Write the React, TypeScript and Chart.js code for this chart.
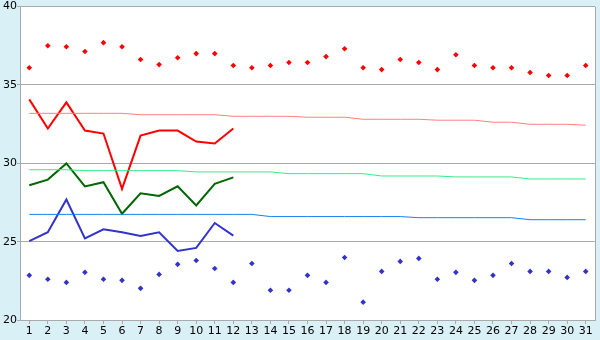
import React, { useEffect, useRef } from "react";
import { Chart, registerables } from "chart.js";

Chart.register(...registerables);

const days: string[] = Array.from({ length: 31 }, (_, i) => String(i + 1));

const dailyMax: number[] = [36.1, 37.5, 37.44, 37.13, 37.7, 37.44, 36.62, 36.3, 36.74, 37.0, 37.0, 36.24, 36.1, 36.24, 36.43, 36.43, 36.81, 37.31, 36.1, 35.98, 36.62, 36.43, 35.98, 36.93, 36.24, 36.1, 36.1, 35.79, 35.6, 35.6, 36.24];
const dailyMin: number[] = [22.85, 22.6, 22.4, 23.04, 22.6, 22.53, 22.02, 22.91, 23.55, 23.8, 23.29, 22.4, 23.61, 21.9, 21.9, 22.85, 22.4, 23.99, 21.14, 23.1, 23.74, 23.93, 22.6, 23.04, 22.53, 22.85, 23.61, 23.1, 23.1, 22.72, 23.1];

const avgMax: number[] = [34.08, 32.22, 33.89, 32.09, 31.9, 28.37, 31.77, 32.09, 32.09, 31.39, 31.26, 32.22];
const avgMean: number[] = [28.6, 28.96, 29.99, 28.52, 28.79, 26.78, 28.09, 27.92, 28.53, 27.31, 28.69, 29.1];
const avgMin: number[] = [25.03, 25.6, 27.69, 25.2, 25.79, 25.6, 25.36, 25.6, 24.41, 24.6, 26.19, 25.38];

const normalMax: number[] = [33.19, 33.19, 33.19, 33.19, 33.19, 33.19, 33.1, 33.1, 33.1, 33.1, 33.1, 33.0, 33.0, 33.0, 33.0, 32.94, 32.94, 32.94, 32.81, 32.81, 32.81, 32.81, 32.75, 32.75, 32.75, 32.62, 32.62, 32.49, 32.49, 32.49, 32.43];
const normalMean: number[] = [29.59, 29.59, 29.59, 29.53, 29.53, 29.53, 29.53, 29.53, 29.53, 29.45, 29.45, 29.45, 29.45, 29.45, 29.34, 29.34, 29.34, 29.34, 29.34, 29.19, 29.19, 29.19, 29.19, 29.13, 29.13, 29.13, 29.13, 29.0, 29.0, 29.0, 29.0];
const normalMin: number[] = [26.74, 26.74, 26.74, 26.74, 26.74, 26.74, 26.74, 26.74, 26.74, 26.74, 26.74, 26.74, 26.74, 26.6, 26.6, 26.6, 26.6, 26.6, 26.6, 26.6, 26.6, 26.53, 26.53, 26.53, 26.53, 26.53, 26.53, 26.4, 26.4, 26.4, 26.4];

const yTicks: number[] = [20, 25, 30, 35, 40];

const FONT = { family: "'DejaVu Sans', Verdana, sans-serif", size: 11 };

const bgPlugin = {
  id: "bgPlugin",
  beforeDraw(chart: any) {
    const { ctx, chartArea } = chart;
    ctx.save();
    ctx.fillStyle = "#daf0f7";
    ctx.fillRect(0, 0, chart.width, chart.height);
    ctx.fillStyle = "#ffffff";
    ctx.fillRect(chartArea.left, chartArea.top, chartArea.right - chartArea.left, chartArea.bottom - chartArea.top);
    ctx.restore();
  },
  afterDatasetsDraw(chart: any) {
    const { ctx, chartArea } = chart;
    ctx.save();
    ctx.strokeStyle = "#aaaaaa";
    ctx.lineWidth = 1;
    ctx.beginPath();
    ctx.moveTo(Math.round(chartArea.right) + 0.5, chartArea.top);
    ctx.lineTo(Math.round(chartArea.right) + 0.5, chartArea.bottom);
    ctx.stroke();
    ctx.restore();
  },
};

const lineDs = (label: string, data: number[], color: string, width: number) => ({
  label,
  data,
  borderColor: color,
  backgroundColor: color,
  borderWidth: width,
  pointRadius: 0,
  tension: 0,
  fill: false,
});

const dotDs = (label: string, data: number[], color: string) => ({
  label,
  data,
  borderColor: color,
  backgroundColor: color,
  showLine: false,
  pointStyle: "rectRot",
  pointRadius: 2.8,
  pointBorderWidth: 0,
});

export default function App() {
  const ref = useRef<HTMLCanvasElement | null>(null);
  useEffect(() => {
    if (!ref.current) return;
    const chart = new Chart(ref.current, {
      type: "line",
      data: {
        labels: days,
        datasets: [
          lineDs("normalMax", normalMax, "#ff8080", 1),
          lineDs("normalMean", normalMean, "#33ee88", 1),
          lineDs("normalMin", normalMin, "#1a80ee", 1),
          lineDs("avgMax", avgMax, "#ff0000", 2),
          lineDs("avgMean", avgMean, "#006600", 2),
          lineDs("avgMin", avgMin, "#3333cc", 2),
          dotDs("dailyMax", dailyMax, "#ff0000"),
          dotDs("dailyMin", dailyMin, "#3333cc"),
        ] as any,
      },
      options: {
        animation: false,
        responsive: false,
        layout: { padding: { top: 5, right: 5, left: 0, bottom: 0 } },
        plugins: { legend: { display: false }, tooltip: { enabled: false } },
        scales: {
          x: {
            type: "category",
            offset: true,
            grid: { display: true, drawOnChartArea: false, drawTicks: true, tickLength: 4, color: "#aaaaaa" },
            border: { color: "#aaaaaa" },
            ticks: { color: "#000", font: FONT, padding: 1, maxRotation: 0, autoSkip: false },
            afterFit: (s: any) => { s.height = 20; },
          },
          y: {
            min: 20,
            max: 40,
            afterBuildTicks: (s: any) => { s.ticks = yTicks.map((v) => ({ value: v })); },
            grid: { color: "#aaaaaa", tickLength: 3 },
            border: { color: "#aaaaaa" },
            ticks: { color: "#000", font: FONT, padding: 0 },
            afterFit: (s: any) => { s.width = 20; },
          },
        },
      } as any,
      plugins: [bgPlugin],
    });
    return () => chart.destroy();
  }, []);
  return (
    <div style={{ position: "absolute", left: 0, top: 0, width: 600, height: 340 }}>
      <canvas ref={ref} width={600} height={340} style={{ display: "block" }} />
    </div>
  );
}
